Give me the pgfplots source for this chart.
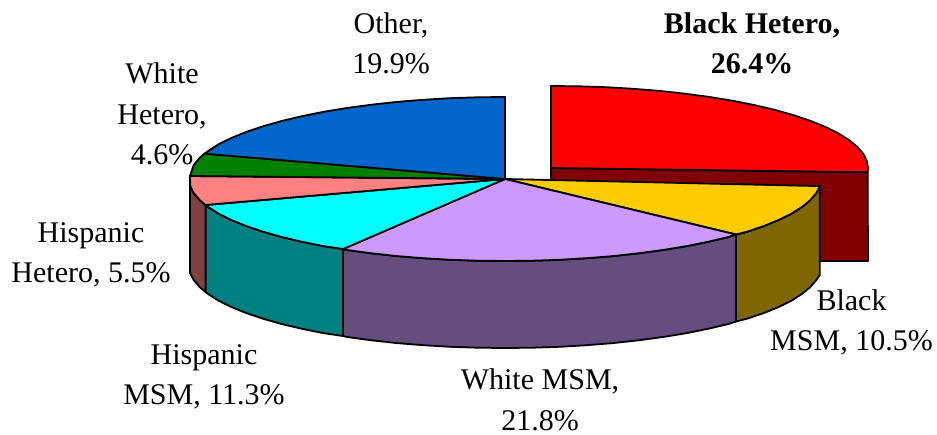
\documentclass[border=0pt]{standalone}
\usepackage{pgfplots}
\pgfplotsset{compat=1.18}
\usepackage{fontspec}
\setmainfont{Liberation Serif}
\definecolor{cRed}{HTML}{FF0000}
\definecolor{cRedD}{HTML}{800000}
\definecolor{cYel}{HTML}{FFCC00}
\definecolor{cYelD}{HTML}{806600}
\definecolor{cLil}{HTML}{CC99FF}
\definecolor{cLilD}{HTML}{664D80}
\definecolor{cCya}{HTML}{00FFFF}
\definecolor{cCyaD}{HTML}{008080}
\definecolor{cPin}{HTML}{FF8080}
\definecolor{cPinD}{HTML}{804040}
\definecolor{cGre}{HTML}{008000}
\definecolor{cBlu}{HTML}{0066CC}
\tikzset{lab/.style={font=\fontsize{30}{40.5}\selectfont, align=center, anchor=base, inner sep=0pt}}
\begin{document}
\begin{tikzpicture}
\begin{axis}[
  scale only axis, width=937pt, height=435pt,
  xmin=0, xmax=937, ymin=0, ymax=435, y dir=reverse,
  axis lines=none, clip=false,
  every axis plot/.append style={draw=black, line width=1.8pt, line join=round, mark=none},
]
\path (axis cs:0,0) rectangle (axis cs:937,435);
% Black Hetero: cut face and outer wall
\addplot[fill=cRedD] coordinates {(551,168)(867.6,172.3)(868,261)(551,261)} -- cycle;
% Black Hetero top
\addplot[fill=cRed] coordinates {(551,168)(551,86)(578.6,86.3)(606,87.2)(633,88.8)(659.4,90.9)(685,93.7)(709.5,97)(732.8,100.8)(754.8,105.2)(775.2,110)(793.8,115.3)(810.7,121)(825.5,127)(838.3,133.3)(848.9,140)(857.2,146.8)(863.2,153.8)(866.8,160.9)(868,168)(867.6,172.3)} -- cycle;
% walls of the main body
\addplot[fill=cYelD] coordinates {(819.8,186.1)(816.2,193.2)(810.2,200.2)(801.9,207)(791.4,213.7)(778.7,220)(763.9,226)(747.1,231.7)(736,234.5)(736,321.5)(747.1,318.7)(763.9,313)(778.7,307)(791.4,300.7)(801.9,294)(810.2,287.2)(816.2,280.2)(819.8,275)} -- cycle;
\addplot[fill=cLilD] coordinates {(736,234.5)(728.4,237)(708.1,241.8)(686.3,246.2)(663,250)(638.5,253.3)(613.1,256.1)(586.8,258.2)(559.9,259.8)(532.6,260.7)(505,261)(477.4,260.7)(450.1,259.8)(423.2,258.2)(396.9,256.1)(371.5,253.3)(347,250)(343,249)(343,336)(347,337)(371.5,340.3)(396.9,343.1)(423.2,345.2)(450.1,346.8)(477.4,347.7)(505,348)(532.6,347.7)(559.9,346.8)(586.8,345.2)(613.1,343.1)(638.5,340.3)(663,337)(686.3,333.2)(708.1,328.8)(728.4,324)(736,321.5)} -- cycle;
\addplot[fill=cCyaD] coordinates {(343,249)(323.7,246.2)(301.9,241.8)(281.6,237)(262.9,231.7)(246.1,226)(231.3,220)(218.6,213.7)(208.1,207)(205.5,205)(205.5,292)(208.1,294)(218.6,300.7)(231.3,307)(246.1,313)(262.9,318.7)(281.6,324)(301.9,328.8)(323.7,333.2)(343,336)} -- cycle;
\addplot[fill=cPinD] coordinates {(205.5,205)(199.8,200.2)(193.8,193.2)(190.2,186.1)(190,176)(190,273)(193.8,280.2)(199.8,287.2)(205.5,292)} -- cycle;
% top faces of the main body
\addplot[fill=cYel] coordinates {(505,179)(819.8,186.1)(816.2,193.2)(810.2,200.2)(801.9,207)(791.4,213.7)(778.7,220)(763.9,226)(747.1,231.7)(736,234.5)} -- cycle;
\addplot[fill=cLil] coordinates {(505,179)(736,234.5)(728.4,237)(708.1,241.8)(686.3,246.2)(663,250)(638.5,253.3)(613.1,256.1)(586.8,258.2)(559.9,259.8)(532.6,260.7)(505,261)(477.4,260.7)(450.1,259.8)(423.2,258.2)(396.9,256.1)(371.5,253.3)(347,250)(343,249)} -- cycle;
\addplot[fill=cCya] coordinates {(505,179)(343,249)(323.7,246.2)(301.9,241.8)(281.6,237)(262.9,231.7)(246.1,226)(231.3,220)(218.6,213.7)(208.1,207)(205.5,205)} -- cycle;
\addplot[fill=cPin] coordinates {(505,179)(205.5,205)(199.8,200.2)(193.8,193.2)(190.2,186.1)(190,176)} -- cycle;
\addplot[fill=cGre] coordinates {(505,179)(190,176)(193.8,164.8)(199.8,157.8)(204.5,153.7)} -- cycle;
\addplot[fill=cBlu] coordinates {(505,179)(204.5,153.7)(208.1,151)(218.6,144.3)(231.3,138)(246.1,132)(262.9,126.3)(281.6,121)(301.9,116.2)(323.7,111.8)(347,108)(371.5,104.7)(396.9,101.9)(423.2,99.8)(450.1,98.2)(477.4,97.3)(505,97)} -- cycle;
% labels
\node[lab] at (axis cs:391,74) {Other,\\19.9\%};
\node[lab] at (axis cs:752,74) {\bfseries Black Hetero,\\\bfseries 26.4\%};
\node[lab] at (axis cs:162,165) {White\\Hetero,\\4.6\%};
\node[lab] at (axis cs:91,283) {Hispanic\\Hetero, 5.5\%};
\node[lab] at (axis cs:851.5,351) {Black\\MSM, 10.5\%};
\node[lab] at (axis cs:204,405) {Hispanic\\MSM, 11.3\%};
\node[lab] at (axis cs:540,430) {White MSM,\\21.8\%};
\end{axis}
\end{tikzpicture}
\end{document}
